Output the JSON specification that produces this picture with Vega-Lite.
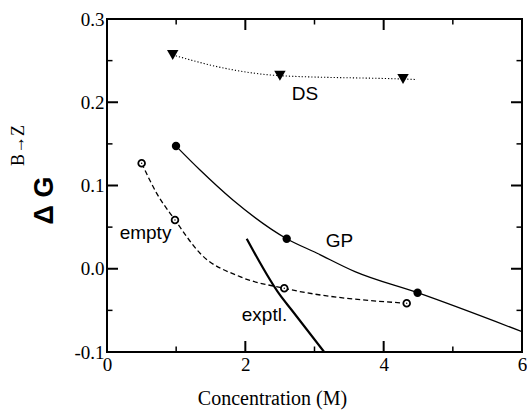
{
  "$schema": "https://vega.github.io/schema/vega-lite/v6.json",
  "width": 415,
  "height": 333,
  "autosize": "none",
  "padding": {"left": 107, "top": 19, "right": 5, "bottom": 60},
  "background": "white",
  "title": {
    "text": "B→Z",
    "orient": "left",
    "anchor": "middle",
    "font": "Liberation Serif",
    "fontSize": 18,
    "fontWeight": "normal",
    "color": "black",
    "offset": 2,
    "dx": 40,
    "dy": 0
  },
  "config": {
    "view": {"stroke": "black", "strokeWidth": 2},
    "axis": {
      "domain": false,
      "ticks": false,
      "grid": false,
      "labelFont": "Liberation Serif",
      "labelFontSize": 19,
      "labelColor": "black",
      "labelFlush": false,
      "labelOverlap": false,
      "titleColor": "black"
    }
  },
  "datasets": {
    "gpLine": [
      {"x": 0.9975, "y": 0.1474},
      {"x": 1.345, "y": 0.1186},
      {"x": 1.82, "y": 0.0826},
      {"x": 2.598, "y": 0.0361},
      {"x": 3.03, "y": 0.0189},
      {"x": 3.585, "y": -0.0035},
      {"x": 4.49, "y": -0.0288},
      {"x": 6.0, "y": -0.0756}
    ],
    "gpPts": [
      {"x": 0.9975, "y": 0.1474},
      {"x": 2.598, "y": 0.0361},
      {"x": 4.49, "y": -0.0288}
    ],
    "emptyLine": [
      {"x": 0.501, "y": 0.1267},
      {"x": 0.719, "y": 0.0906},
      {"x": 0.983, "y": 0.0586},
      {"x": 1.345, "y": 0.0186},
      {"x": 1.923, "y": -0.0095},
      {"x": 2.563, "y": -0.0235},
      {"x": 4.333, "y": -0.0415}
    ],
    "emptyPts": [
      {"x": 0.501, "y": 0.1267},
      {"x": 0.983, "y": 0.0586},
      {"x": 2.563, "y": -0.0235},
      {"x": 4.333, "y": -0.0415}
    ],
    "dsLine": [
      {"x": 0.95, "y": 0.2568},
      {"x": 1.778, "y": 0.2396},
      {"x": 2.5, "y": 0.2319},
      {"x": 4.28, "y": 0.2279},
      {"x": 4.48, "y": 0.2273}
    ],
    "dsPts": [
      {"x": 0.95, "y": 0.2568},
      {"x": 2.5, "y": 0.2319},
      {"x": 4.28, "y": 0.2279}
    ],
    "exptl": [
      {"x": 2.02, "y": 0.036},
      {"x": 2.5, "y": -0.0315},
      {"x": 2.67, "y": -0.0496},
      {"x": 3.14, "y": -0.1}
    ],
    "labels": [
      {"x": 2.863, "y": 0.2101, "label": "DS"},
      {"x": 3.361, "y": 0.0337, "label": "GP"},
      {"x": 0.557, "y": 0.0429, "label": "empty"},
      {"x": 2.277, "y": -0.0556, "label": "exptl."}
    ],
    "xMajor": [{"x": 0}, {"x": 2}, {"x": 4}, {"x": 6}],
    "xMinor": [{"x": 1}, {"x": 3}, {"x": 5}],
    "yMajor": [{"y": -0.1}, {"y": 0}, {"y": 0.1}, {"y": 0.2}, {"y": 0.3}],
    "yMinor": [{"y": -0.05}, {"y": 0.05}, {"y": 0.15}, {"y": 0.25}]
  },
  "layer": [
    {
      "encoding": {
        "x": {"field": "x", "type": "quantitative", "scale": {"domain": [0, 6], "nice": false, "zero": false},
          "axis": {"orient": "bottom", "values": [0, 2, 4, 6], "labelPadding": 3, "title": "Concentration (M)", "titleFont": "Liberation Serif", "titleFontSize": 20, "titleFontWeight": "normal", "titleBaseline": "alphabetic", "titleX": 165, "titleY": 52}},
        "y": {"field": "y", "type": "quantitative", "scale": {"domain": [-0.1, 0.3], "nice": false, "zero": false},
          "axis": {"orient": "left", "values": [-0.1, 0, 0.1, 0.2, 0.3], "labelExpr": "replace(format(datum.value, '.1f'), '−', '-')", "labelPadding": 3, "title": "Δ G", "titleFont": "Liberation Sans", "titleFontSize": 27, "titleFontWeight": "bold", "titleAngle": -90, "titleBaseline": "alphabetic", "titleAlign": "center", "titleX": -55, "titleY": 181}}
      },
      "layer": [
        {"data": {"name": "gpLine"}, "mark": {"type": "line", "interpolate": "monotone", "color": "black", "strokeWidth": 1.3, "clip": true}},
        {"data": {"name": "emptyLine"}, "mark": {"type": "line", "interpolate": "monotone", "color": "black", "strokeWidth": 1.3, "strokeDash": [5, 3], "clip": true}},
        {"data": {"name": "dsLine"}, "mark": {"type": "line", "interpolate": "monotone", "color": "black", "strokeWidth": 1.1, "strokeDash": [1.2, 2], "clip": true}},
        {"data": {"name": "exptl"}, "mark": {"type": "line", "interpolate": "monotone", "color": "black", "strokeWidth": 2.2, "clip": true}},
        {"data": {"name": "gpPts"}, "mark": {"type": "point", "shape": "circle", "filled": true, "color": "black", "size": 70, "opacity": 1}},
        {"data": {"name": "emptyPts"}, "mark": {"type": "point", "shape": "circle", "filled": false, "color": "black", "fill": "white", "fillOpacity": 1, "strokeWidth": 1.8, "size": 45, "opacity": 1}},
        {"data": {"name": "emptyPts"}, "mark": {"type": "point", "shape": "circle", "filled": true, "color": "black", "size": 2, "opacity": 1}},
        {"data": {"name": "dsPts"}, "mark": {"type": "point", "shape": "triangle-down", "filled": true, "color": "black", "size": 130, "opacity": 1}},
        {"data": {"name": "labels"}, "mark": {"type": "text", "font": "Liberation Sans", "fontSize": 19, "color": "black", "align": "center", "baseline": "middle"}, "encoding": {"text": {"field": "label", "type": "nominal"}}}
      ]
    },
    {"data": {"name": "xMajor"}, "mark": {"type": "tick", "orient": "vertical", "size": 22, "thickness": 2, "color": "black", "opacity": 1, "clip": true},
     "encoding": {
       "x": {"field": "x", "type": "quantitative", "scale": {"domain": [0, 6], "nice": false, "zero": false},
         "axis": {"orient": "bottom", "values": [0, 2, 4, 6], "labelPadding": 3, "title": "Concentration (M)", "titleFont": "Liberation Serif", "titleFontSize": 20, "titleFontWeight": "normal", "titleBaseline": "alphabetic", "titleX": 165, "titleY": 52}},
       "y": {"datum": -0.1, "type": "quantitative", "scale": {"domain": [-0.1, 0.3], "nice": false, "zero": false},
         "axis": {"orient": "left", "values": [-0.1, 0, 0.1, 0.2, 0.3], "labelExpr": "replace(format(datum.value, '.1f'), '−', '-')", "labelPadding": 3, "title": "Δ G", "titleFont": "Liberation Sans", "titleFontSize": 27, "titleFontWeight": "bold", "titleAngle": -90, "titleBaseline": "alphabetic", "titleAlign": "center", "titleX": -55, "titleY": 181}}
     }},
    {"data": {"name": "xMajor"}, "mark": {"type": "tick", "orient": "vertical", "size": 22, "thickness": 2, "color": "black", "opacity": 1, "clip": true},
     "encoding": {
       "x": {"field": "x", "type": "quantitative", "scale": {"domain": [0, 6], "nice": false, "zero": false},
         "axis": {"orient": "bottom", "values": [0, 2, 4, 6], "labelPadding": 3, "title": "Concentration (M)", "titleFont": "Liberation Serif", "titleFontSize": 20, "titleFontWeight": "normal", "titleBaseline": "alphabetic", "titleX": 165, "titleY": 52}},
       "y": {"datum": 0.3, "type": "quantitative", "scale": {"domain": [-0.1, 0.3], "nice": false, "zero": false},
         "axis": {"orient": "left", "values": [-0.1, 0, 0.1, 0.2, 0.3], "labelExpr": "replace(format(datum.value, '.1f'), '−', '-')", "labelPadding": 3, "title": "Δ G", "titleFont": "Liberation Sans", "titleFontSize": 27, "titleFontWeight": "bold", "titleAngle": -90, "titleBaseline": "alphabetic", "titleAlign": "center", "titleX": -55, "titleY": 181}}
     }},
    {"data": {"name": "xMinor"}, "mark": {"type": "tick", "orient": "vertical", "size": 11, "thickness": 1.5, "color": "black", "opacity": 1, "clip": true},
     "encoding": {
       "x": {"field": "x", "type": "quantitative", "scale": {"domain": [0, 6], "nice": false, "zero": false},
         "axis": {"orient": "bottom", "values": [0, 2, 4, 6], "labelPadding": 3, "title": "Concentration (M)", "titleFont": "Liberation Serif", "titleFontSize": 20, "titleFontWeight": "normal", "titleBaseline": "alphabetic", "titleX": 165, "titleY": 52}},
       "y": {"datum": -0.1, "type": "quantitative", "scale": {"domain": [-0.1, 0.3], "nice": false, "zero": false},
         "axis": {"orient": "left", "values": [-0.1, 0, 0.1, 0.2, 0.3], "labelExpr": "replace(format(datum.value, '.1f'), '−', '-')", "labelPadding": 3, "title": "Δ G", "titleFont": "Liberation Sans", "titleFontSize": 27, "titleFontWeight": "bold", "titleAngle": -90, "titleBaseline": "alphabetic", "titleAlign": "center", "titleX": -55, "titleY": 181}}
     }},
    {"data": {"name": "xMinor"}, "mark": {"type": "tick", "orient": "vertical", "size": 11, "thickness": 1.5, "color": "black", "opacity": 1, "clip": true},
     "encoding": {
       "x": {"field": "x", "type": "quantitative", "scale": {"domain": [0, 6], "nice": false, "zero": false},
         "axis": {"orient": "bottom", "values": [0, 2, 4, 6], "labelPadding": 3, "title": "Concentration (M)", "titleFont": "Liberation Serif", "titleFontSize": 20, "titleFontWeight": "normal", "titleBaseline": "alphabetic", "titleX": 165, "titleY": 52}},
       "y": {"datum": 0.3, "type": "quantitative", "scale": {"domain": [-0.1, 0.3], "nice": false, "zero": false},
         "axis": {"orient": "left", "values": [-0.1, 0, 0.1, 0.2, 0.3], "labelExpr": "replace(format(datum.value, '.1f'), '−', '-')", "labelPadding": 3, "title": "Δ G", "titleFont": "Liberation Sans", "titleFontSize": 27, "titleFontWeight": "bold", "titleAngle": -90, "titleBaseline": "alphabetic", "titleAlign": "center", "titleX": -55, "titleY": 181}}
     }},
    {"data": {"name": "yMajor"}, "mark": {"type": "tick", "orient": "horizontal", "size": 22, "thickness": 2, "color": "black", "opacity": 1, "clip": true},
     "encoding": {
       "x": {"datum": 0, "type": "quantitative", "scale": {"domain": [0, 6], "nice": false, "zero": false},
         "axis": {"orient": "bottom", "values": [0, 2, 4, 6], "labelPadding": 3, "title": "Concentration (M)", "titleFont": "Liberation Serif", "titleFontSize": 20, "titleFontWeight": "normal", "titleBaseline": "alphabetic", "titleX": 165, "titleY": 52}},
       "y": {"field": "y", "type": "quantitative", "scale": {"domain": [-0.1, 0.3], "nice": false, "zero": false},
         "axis": {"orient": "left", "values": [-0.1, 0, 0.1, 0.2, 0.3], "labelExpr": "replace(format(datum.value, '.1f'), '−', '-')", "labelPadding": 3, "title": "Δ G", "titleFont": "Liberation Sans", "titleFontSize": 27, "titleFontWeight": "bold", "titleAngle": -90, "titleBaseline": "alphabetic", "titleAlign": "center", "titleX": -55, "titleY": 181}}
     }},
    {"data": {"name": "yMajor"}, "mark": {"type": "tick", "orient": "horizontal", "size": 22, "thickness": 2, "color": "black", "opacity": 1, "clip": true},
     "encoding": {
       "x": {"datum": 6, "type": "quantitative", "scale": {"domain": [0, 6], "nice": false, "zero": false},
         "axis": {"orient": "bottom", "values": [0, 2, 4, 6], "labelPadding": 3, "title": "Concentration (M)", "titleFont": "Liberation Serif", "titleFontSize": 20, "titleFontWeight": "normal", "titleBaseline": "alphabetic", "titleX": 165, "titleY": 52}},
       "y": {"field": "y", "type": "quantitative", "scale": {"domain": [-0.1, 0.3], "nice": false, "zero": false},
         "axis": {"orient": "left", "values": [-0.1, 0, 0.1, 0.2, 0.3], "labelExpr": "replace(format(datum.value, '.1f'), '−', '-')", "labelPadding": 3, "title": "Δ G", "titleFont": "Liberation Sans", "titleFontSize": 27, "titleFontWeight": "bold", "titleAngle": -90, "titleBaseline": "alphabetic", "titleAlign": "center", "titleX": -55, "titleY": 181}}
     }},
    {"data": {"name": "yMinor"}, "mark": {"type": "tick", "orient": "horizontal", "size": 11, "thickness": 1.5, "color": "black", "opacity": 1, "clip": true},
     "encoding": {
       "x": {"datum": 0, "type": "quantitative", "scale": {"domain": [0, 6], "nice": false, "zero": false},
         "axis": {"orient": "bottom", "values": [0, 2, 4, 6], "labelPadding": 3, "title": "Concentration (M)", "titleFont": "Liberation Serif", "titleFontSize": 20, "titleFontWeight": "normal", "titleBaseline": "alphabetic", "titleX": 165, "titleY": 52}},
       "y": {"field": "y", "type": "quantitative", "scale": {"domain": [-0.1, 0.3], "nice": false, "zero": false},
         "axis": {"orient": "left", "values": [-0.1, 0, 0.1, 0.2, 0.3], "labelExpr": "replace(format(datum.value, '.1f'), '−', '-')", "labelPadding": 3, "title": "Δ G", "titleFont": "Liberation Sans", "titleFontSize": 27, "titleFontWeight": "bold", "titleAngle": -90, "titleBaseline": "alphabetic", "titleAlign": "center", "titleX": -55, "titleY": 181}}
     }},
    {"data": {"name": "yMinor"}, "mark": {"type": "tick", "orient": "horizontal", "size": 11, "thickness": 1.5, "color": "black", "opacity": 1, "clip": true},
     "encoding": {
       "x": {"datum": 6, "type": "quantitative", "scale": {"domain": [0, 6], "nice": false, "zero": false},
         "axis": {"orient": "bottom", "values": [0, 2, 4, 6], "labelPadding": 3, "title": "Concentration (M)", "titleFont": "Liberation Serif", "titleFontSize": 20, "titleFontWeight": "normal", "titleBaseline": "alphabetic", "titleX": 165, "titleY": 52}},
       "y": {"field": "y", "type": "quantitative", "scale": {"domain": [-0.1, 0.3], "nice": false, "zero": false},
         "axis": {"orient": "left", "values": [-0.1, 0, 0.1, 0.2, 0.3], "labelExpr": "replace(format(datum.value, '.1f'), '−', '-')", "labelPadding": 3, "title": "Δ G", "titleFont": "Liberation Sans", "titleFontSize": 27, "titleFontWeight": "bold", "titleAngle": -90, "titleBaseline": "alphabetic", "titleAlign": "center", "titleX": -55, "titleY": 181}}
     }}
  ]
}
